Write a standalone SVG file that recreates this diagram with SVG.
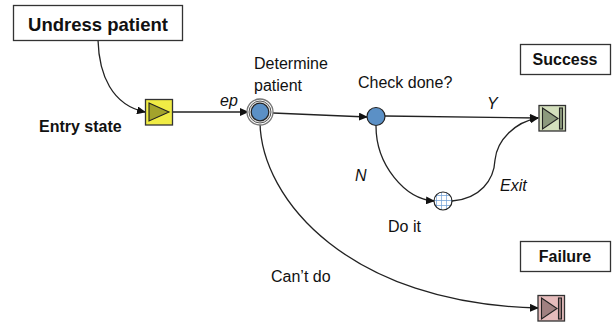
<svg xmlns="http://www.w3.org/2000/svg" width="613" height="324" viewBox="0 0 613 324">
<style>
text{font-family:"Liberation Sans",Arial,sans-serif;fill:#111}
.l{font-size:16px}
.i{font-size:16px;font-style:italic}
.b{font-size:16px;font-weight:bold}
.box{fill:#fff;stroke:#333;stroke-width:1.3}
.c{fill:none;stroke:#222;stroke-width:1.3}
.sq{stroke:#333;stroke-width:1.3}
.tri{stroke:#222;stroke-width:1.1}
.ev{fill:#5b90c6;stroke:#222;stroke-width:1.2}
</style>
<defs>
<marker id="a" markerWidth="9" markerHeight="8" refX="8" refY="4" orient="auto" markerUnits="userSpaceOnUse"><path d="M0 0L9 4L0 8Z" fill="#111"/></marker>
<pattern id="g" width="5" height="5" patternUnits="userSpaceOnUse" x="1" y="0"><rect width="5" height="5" fill="#fff"/><path d="M0 0H5M0 0V5" stroke="#6f9fd6" stroke-width="1.4"/></pattern>
</defs>
<g id="connectors">
<path class="c" marker-end="url(#a)" d="M98 40C99 75 112 105 145 112"/>
<path class="c" marker-end="url(#a)" d="M173 112L248 112"/>
<path class="c" marker-end="url(#a)" d="M273 113L367 117"/>
<path class="c" marker-end="url(#a)" d="M385 116L538 118"/>
<path class="c" marker-end="url(#a)" d="M376 126C376 165 405 199 434 201"/>
<path class="c" marker-end="url(#a)" d="M452 201C480 199 494 180 495 160C497 140 515 122 538 118"/>
<path class="c" marker-end="url(#a)" d="M260 122C261 200 350 304 538 308"/>
</g>
<g id="undress"><rect class="box" x="13.500" y="5.500" width="169" height="35"/><text x="98" y="31" text-anchor="middle" font-size="18.500" font-weight="bold">Undress patient</text></g>
<g id="entry">
<rect class="sq" x="145.500" y="99.500" width="27" height="25.500" fill="#f0ec45"/>
<path class="tri" d="M149 103L169 112L149 121Z" fill="#a3a32c"/>
<text class="b" x="39" y="132">Entry state</text>
</g>
<g id="determine">
<circle cx="260" cy="112" r="13" fill="#fff" stroke="#777" stroke-width="1.3"/>
<circle cx="260" cy="112" r="11" fill="#ddd" stroke="#555" stroke-width="1"/>
<circle class="ev" cx="260" cy="112" r="8.800"/>
<text class="l" x="254" y="69">Determine</text><text class="l" x="254" y="91">patient</text>
</g>
<g id="check">
<circle class="ev" cx="376" cy="116.500" r="9"/>
<text class="l" x="358" y="88">Check done?</text>
</g>
<g id="doit">
<circle cx="443" cy="201" r="9" fill="url(#g)" stroke="#222" stroke-width="1.200"/>
<text class="l" x="388" y="232">Do it</text>
</g>
<g id="success">
<rect class="box" x="520.500" y="44.500" width="90" height="30"/>
<text class="b" x="565" y="65" text-anchor="middle">Success</text>
<rect class="sq" x="539" y="105.500" width="26.500" height="25.500" fill="#d3dfbc"/>
<path class="tri" d="M542.500 108L558 118.500L542.500 129Z" fill="#8c9a7d"/>
<rect class="tri" x="559.500" y="108" width="3" height="21" fill="#8c9a7d"/>
</g>
<g id="failure">
<rect class="box" x="520.500" y="241.500" width="90" height="30"/>
<text class="b" x="565" y="262" text-anchor="middle">Failure</text>
<rect class="sq" x="538" y="295.500" width="26.500" height="25.500" fill="#e6bcbc"/>
<path class="tri" d="M541.500 298L557 308.500L541.500 319Z" fill="#a08080"/>
<rect class="tri" x="558.500" y="298" width="3" height="21" fill="#a08080"/>
</g>
<g id="labels">
<text class="i" x="220" y="106">ep</text>
<text class="i" x="487" y="109">Y</text>
<text class="i" x="355" y="181">N</text>
<text class="i" x="500" y="191">Exit</text>
<text class="l" x="271" y="282">Can’t do</text>
</g>
</svg>
